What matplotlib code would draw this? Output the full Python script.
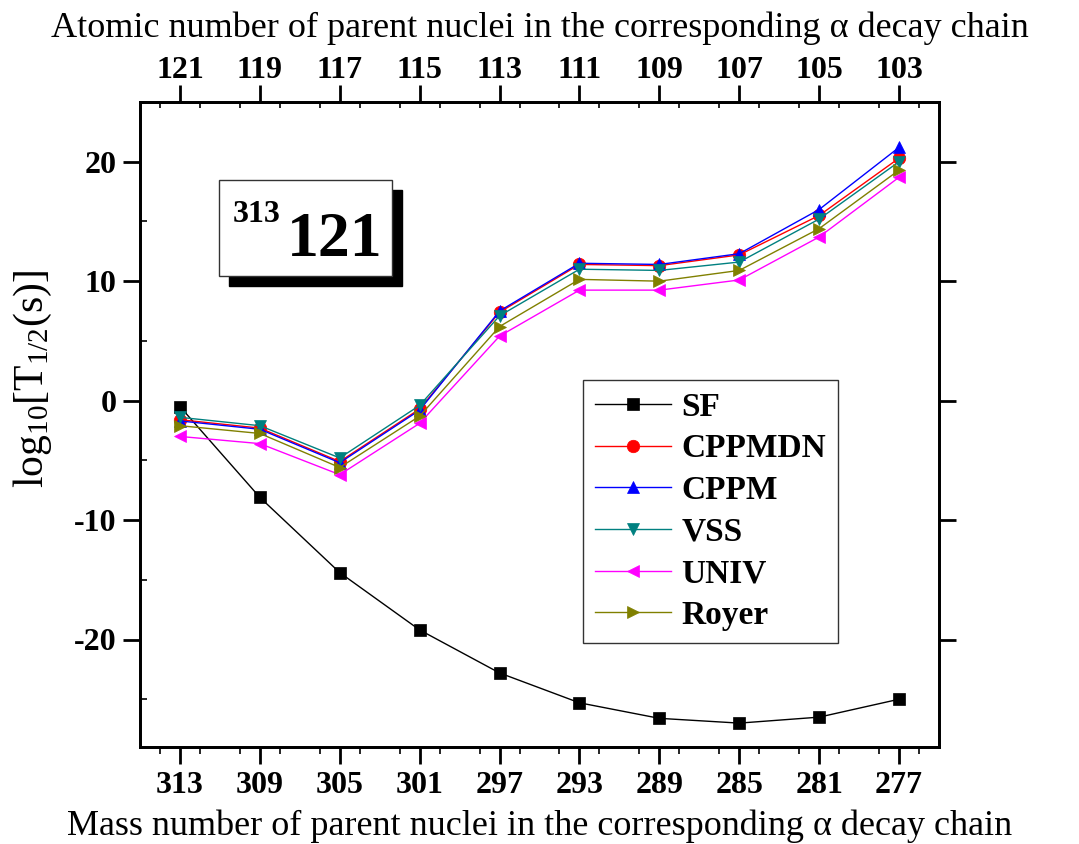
import matplotlib
matplotlib.use("Agg")
import matplotlib.pyplot as plt
from matplotlib.patches import Rectangle
from matplotlib.ticker import MultipleLocator

plt.rcParams['font.family'] = ['Liberation Serif', 'DejaVu Serif']
plt.rcParams['mathtext.fontset'] = 'custom'
plt.rcParams['mathtext.rm'] = 'Liberation Serif'
plt.rcParams['mathtext.it'] = 'Liberation Serif:italic'
plt.rcParams['mathtext.bf'] = 'Liberation Serif:bold'

mass = [313, 309, 305, 301, 297, 293, 289, 285, 281, 277]
atomic = [121, 119, 117, 115, 113, 111, 109, 107, 105, 103]

sf = [-0.5, -8.1, -14.4, -19.2, -22.8, -25.3, -26.6, -27.0, -26.5, -25.0]
cppmdn = [-1.6, -2.3, -5.1, -0.7, 7.4, 11.4, 11.3, 12.2, 15.5, 20.3]
cppm = [-1.7, -2.4, -5.2, -0.8, 7.5, 11.5, 11.4, 12.3, 16.0, 21.2]
vss = [-1.4, -2.1, -4.8, -0.4, 7.1, 11.0, 10.9, 11.6, 15.2, 20.0]
univ = [-3.0, -3.6, -6.2, -1.9, 5.4, 9.25, 9.25, 10.1, 13.7, 18.7]
royer = [-2.1, -2.75, -5.6, -1.3, 6.2, 10.15, 10.0, 10.9, 14.4, 19.3]

series = [
    ("SF", sf, "black", "s"),
    ("CPPMDN", cppmdn, "red", "o"),
    ("CPPM", cppm, "blue", "^"),
    ("VSS", vss, "#008080", "v"),
    ("UNIV", univ, "magenta", "<"),
    ("Royer", royer, "#808000", ">"),
]

fig = plt.figure(figsize=(10.79, 8.44), dpi=100)
ax = fig.add_axes([140/1079, 1-747/844, (939-140)/1079, (747-102)/844])

for name, vals, col, mk in series:
    ax.plot(mass, vals, color=col, marker=mk, markersize=9, linewidth=1.0,
            label=name, markeredgewidth=0.5, markeredgecolor=col)

ax.set_xlim(315, 275)
ax.set_ylim(-29, 25)
ax.set_xticks(mass)
ax.xaxis.set_minor_locator(MultipleLocator(2))
ax.yaxis.set_minor_locator(MultipleLocator(5))
ax.set_yticks([-20, -10, 0, 10, 20])
ax.set_yticklabels(['-20', '-10', '0', '10', '20'])

for s in ax.spines.values():
    s.set_linewidth(2)

ax.tick_params(axis='both', which='major', direction='out', length=12, width=2,
               labelsize=23, pad=5)
ax.tick_params(axis='x', which='minor', direction='out', length=5, width=1.2)
ax.tick_params(axis='y', which='minor', direction='in', length=5, width=1.2)
ax.tick_params(axis='y', which='major', right=True)
for lab in ax.get_xticklabels() + ax.get_yticklabels():
    lab.set_fontweight('bold')

ax.set_xlabel("Mass number of parent nuclei in the corresponding α decay chain",
              fontsize=26, labelpad=7)
ax.set_ylabel(r"log$_{10}$[T$_{1/2}$(s)]", fontsize=30)
ax.yaxis.set_label_coords(-0.108, 0.57)

ax2 = ax.twiny()
ax2.set_xlim(ax.get_xlim())
ax2.set_xticks(mass)
ax2.set_xticklabels([str(z) for z in atomic])
ax2.xaxis.set_minor_locator(MultipleLocator(2))
ax2.tick_params(axis='x', which='major', direction='out', length=12, width=2,
                labelsize=23, pad=0)
ax2.tick_params(axis='x', which='minor', direction='in', length=4, width=1.2)
for lab in ax2.get_xticklabels():
    lab.set_fontweight('bold')
for s in ax2.spines.values():
    s.set_linewidth(2)
ax2.set_xlabel("Atomic number of parent nuclei in the corresponding α decay chain",
               fontsize=26, labelpad=14)

leg = ax.legend(loc='upper left', bbox_to_anchor=((583-140)/799, 1-(380-102)/645),
                prop={'weight': 'bold', 'size': 24}, frameon=True, fancybox=False,
                edgecolor='black', handlelength=2.3, handletextpad=0.3,
                labelspacing=0.32, borderpad=0.35, borderaxespad=0)
leg.get_frame().set_linewidth(1.0)

# inset label box with shadow
bx0, by0, bw, bh = (219-140)/799, 1-(276-102)/645, (392-219)/799, (276-180)/645
ax.add_patch(Rectangle((bx0 + 10/799, by0 - 10/645), bw, bh, transform=ax.transAxes,
                       facecolor='black', edgecolor='black', zorder=5))
ax.add_patch(Rectangle((bx0, by0), bw, bh, transform=ax.transAxes,
                       facecolor='white', edgecolor='#333333', linewidth=1, zorder=6))
ax.text((233-140)/799, 1-(215-102)/645, "313", transform=ax.transAxes,
        fontsize=23, fontweight='bold', ha='left', va='center', zorder=7)
ax.text((287-140)/799, 1-(241-102)/645, "121", transform=ax.transAxes,
        fontsize=46, fontweight='bold', ha='left', va='center', zorder=7)

fig.savefig("out.png", dpi=100)
